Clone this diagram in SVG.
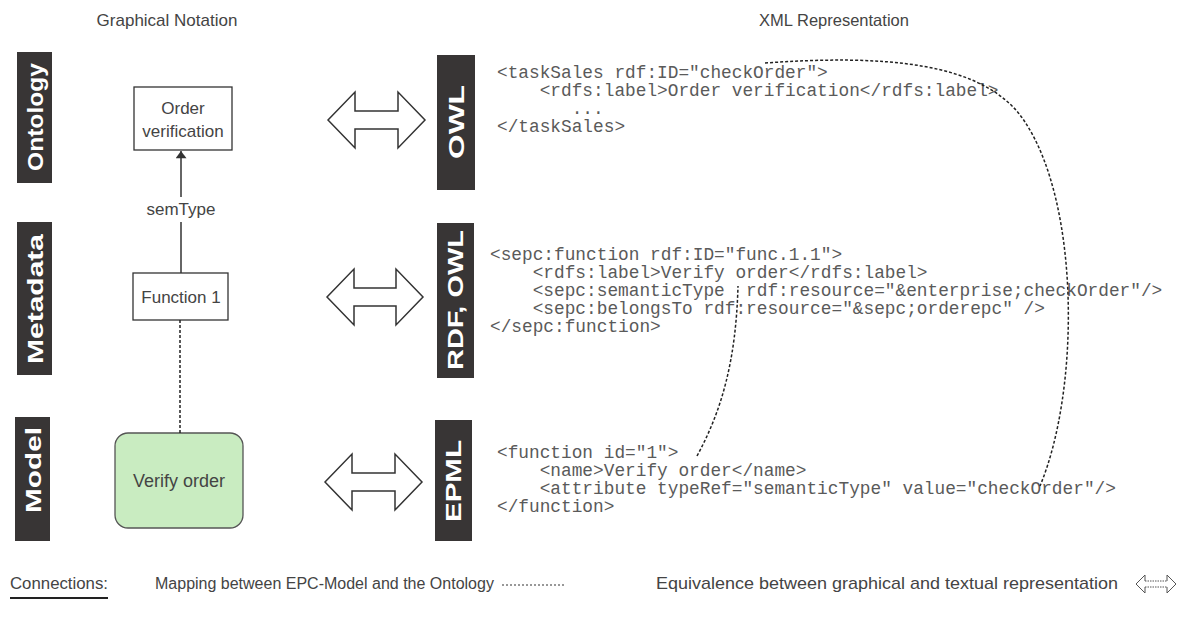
<svg xmlns="http://www.w3.org/2000/svg" width="1201" height="627" viewBox="0 0 1201 627">
  <style>
    .sans { font-family: "Liberation Sans", Arial, sans-serif; fill: #444; }
    .lbl { font-size: 17px; }
    .tag { fill: #383535; }
    .tagtxt { font-family: "Liberation Sans", Arial, sans-serif; font-weight: bold; font-size: 22px; fill: #fff; }
    .code { font-family: "Liberation Mono", "Courier New", monospace; font-size: 17.8px; fill: #5a5a5a; }
    .box { fill: #fff; stroke: #333; stroke-width: 1.3; }
    .equiv { fill: #fff; stroke: #333; stroke-width: 1.5; stroke-linejoin: miter; }
    .map { fill: none; stroke: #222; stroke-width: 1.5; stroke-dasharray: 3 2; }
    .tiny { fill: none; stroke: #555; stroke-width: 1; }
  </style>
  <defs>
    <marker id="arrowhead" viewBox="0 0 10 15" refX="10" refY="7.5" markerWidth="15" markerHeight="11" markerUnits="userSpaceOnUse" orient="auto">
      <path d="M0,0 L10,7.5 L0,15 Z" fill="#333"/>
    </marker>
  </defs>
  <rect width="1201" height="627" fill="#fff"/>

  <!-- column headings -->
  <text class="sans" font-size="17" x="167" y="26" text-anchor="middle">Graphical Notation</text>
  <text class="sans" font-size="16.5" x="834" y="26" text-anchor="middle">XML Representation</text>

  <!-- layer tags, left -->
  <g id="tag-ontology">
    <rect class="tag" x="17" y="52" width="35" height="131"/>
    <text class="tagtxt" transform="translate(35,117) rotate(-90)" text-anchor="middle" dominant-baseline="central" textLength="108" lengthAdjust="spacingAndGlyphs">Ontology</text>
  </g>
  <g id="tag-metadata">
    <rect class="tag" x="17" y="222" width="35" height="153"/>
    <text class="tagtxt" transform="translate(35,299) rotate(-90)" text-anchor="middle" dominant-baseline="central" textLength="130" lengthAdjust="spacingAndGlyphs">Metadata</text>
  </g>
  <g id="tag-model">
    <rect class="tag" x="15" y="417" width="35" height="124"/>
    <text class="tagtxt" transform="translate(33,470) rotate(-90)" text-anchor="middle" dominant-baseline="central" textLength="86" lengthAdjust="spacingAndGlyphs">Model</text>
  </g>

  <!-- format tags, right -->
  <g id="tag-owl">
    <rect class="tag" x="437" y="55" width="38" height="135"/>
    <text class="tagtxt" transform="translate(456,122) rotate(-90)" text-anchor="middle" dominant-baseline="central" textLength="74" lengthAdjust="spacingAndGlyphs">OWL</text>
  </g>
  <g id="tag-rdf-owl">
    <rect class="tag" x="437" y="223" width="37" height="155"/>
    <text class="tagtxt" transform="translate(455,300) rotate(-90)" text-anchor="middle" dominant-baseline="central" textLength="140" lengthAdjust="spacingAndGlyphs">RDF, OWL</text>
  </g>
  <g id="tag-epml">
    <rect class="tag" x="435" y="420" width="37" height="121"/>
    <text class="tagtxt" transform="translate(453,481) rotate(-90)" text-anchor="middle" dominant-baseline="central" textLength="82" lengthAdjust="spacingAndGlyphs">EPML</text>
  </g>

  <!-- graphical notation nodes -->
  <g id="node-order-verification">
    <rect class="box" x="134" y="87" width="98" height="63"/>
    <text class="sans lbl" x="183" y="114" text-anchor="middle">Order</text>
    <text class="sans lbl" x="183" y="137" text-anchor="middle">verification</text>
  </g>
  <g id="node-function-1">
    <rect class="box" x="133" y="273" width="95" height="47"/>
    <text class="sans lbl" x="181" y="303" text-anchor="middle">Function 1</text>
  </g>
  <g id="node-verify-order">
    <rect x="115" y="433" width="128" height="95" rx="13" ry="13" fill="#c9ecc1" stroke="#555" stroke-width="1.3"/>
    <text class="sans" x="179" y="487" text-anchor="middle" font-size="18">Verify order</text>
  </g>

  <!-- equivalence arrows -->
  <g id="equiv-owl">
    <polygon class="equiv" points="328,120 355,92 355,111 398,111 398,92 425,120 398,148 398,129 355,129 355,148"/>
  </g>
  <g id="equiv-rdf">
    <polygon class="equiv" points="327,297 354,269 354,288 396,288 396,269 423,297 396,325 396,306 354,306 354,325"/>
  </g>
  <g id="equiv-epml">
    <polygon class="equiv" points="325,482 352,454 352,473 395,473 395,454 422,482 395,510 395,491 352,491 352,510"/>
  </g>

  <!-- XML listings -->
  <g id="code-owl" class="code">
    <text x="497" y="78" xml:space="preserve">&lt;taskSales rdf:ID="checkOrder"&gt;</text>
    <text x="497" y="96" xml:space="preserve">    &lt;rdfs:label&gt;Order verification&lt;/rdfs:label&gt;</text>
    <text x="497" y="114" xml:space="preserve">       ...</text>
    <text x="497" y="132" xml:space="preserve">&lt;/taskSales&gt;</text>
  </g>
  <g id="code-rdf" class="code">
    <text x="490" y="260" xml:space="preserve">&lt;sepc:function rdf:ID="func.1.1"&gt;</text>
    <text x="490" y="278" xml:space="preserve">    &lt;rdfs:label&gt;Verify order&lt;/rdfs:label&gt;</text>
    <text x="490" y="296" xml:space="preserve">    &lt;sepc:semanticType  rdf:resource="&amp;enterprise;checkOrder"/&gt;</text>
    <text x="490" y="314" xml:space="preserve">    &lt;sepc:belongsTo rdf:resource="&amp;sepc;orderepc" /&gt;</text>
    <text x="490" y="332" xml:space="preserve">&lt;/sepc:function&gt;</text>
  </g>
  <g id="code-epml" class="code">
    <text x="497" y="458" xml:space="preserve">&lt;function id="1"&gt;</text>
    <text x="497" y="476" xml:space="preserve">    &lt;name&gt;Verify order&lt;/name&gt;</text>
    <text x="497" y="494" xml:space="preserve">    &lt;attribute typeRef="semanticType" value="checkOrder"/&gt;</text>
    <text x="497" y="512" xml:space="preserve">&lt;/function&gt;</text>
  </g>

  <!-- connectors -->
  <g id="connectors">
    <line x1="181" y1="197" x2="181" y2="151" stroke="#333" stroke-width="1.5" marker-end="url(#arrowhead)"/>
    <line x1="181" y1="222" x2="181" y2="273" stroke="#333" stroke-width="1.5"/>
    <text class="sans lbl" x="181" y="215" text-anchor="middle">semType</text>
    <line class="map" x1="180" y1="320" x2="180" y2="433"/>
    <path class="map" d="M765,63 C880,55 985,60 1025,122 C1080,205 1080,390 1040,486"/>
    <path class="map" d="M697,456 C722,410 736,360 738,286"/>
  </g>

  <!-- legend -->
  <g id="legend">
    <text class="sans" font-size="16" x="10" y="589" textLength="98" lengthAdjust="spacingAndGlyphs">Connections:</text>
    <line x1="10" y1="598" x2="108" y2="598" stroke="#222" stroke-width="2"/>
    <text class="sans" font-size="16" x="155" y="589">Mapping between EPC-Model and the Ontology</text>
    <line x1="502" y1="585" x2="565" y2="585" stroke="#333" stroke-width="1.2" stroke-dasharray="2 2"/>
    <text class="sans" font-size="17" x="656" y="589" textLength="462" lengthAdjust="spacingAndGlyphs">Equivalence between graphical and textual representation</text>
    <polyline class="tiny" points="1145,575 1136,584 1145,593"/>
    <polyline class="tiny" points="1167,575 1176,584 1167,593"/>
    <line class="tiny" x1="1145" y1="575" x2="1145" y2="581"/>
    <line class="tiny" x1="1145" y1="587" x2="1145" y2="593"/>
    <line class="tiny" x1="1167" y1="575" x2="1167" y2="581"/>
    <line class="tiny" x1="1167" y1="587" x2="1167" y2="593"/>
    <line class="tiny" x1="1145" y1="581" x2="1167" y2="581" stroke-dasharray="1.5 1"/>
    <line class="tiny" x1="1145" y1="587" x2="1167" y2="587" stroke-dasharray="1.5 1"/>
  </g>
</svg>
